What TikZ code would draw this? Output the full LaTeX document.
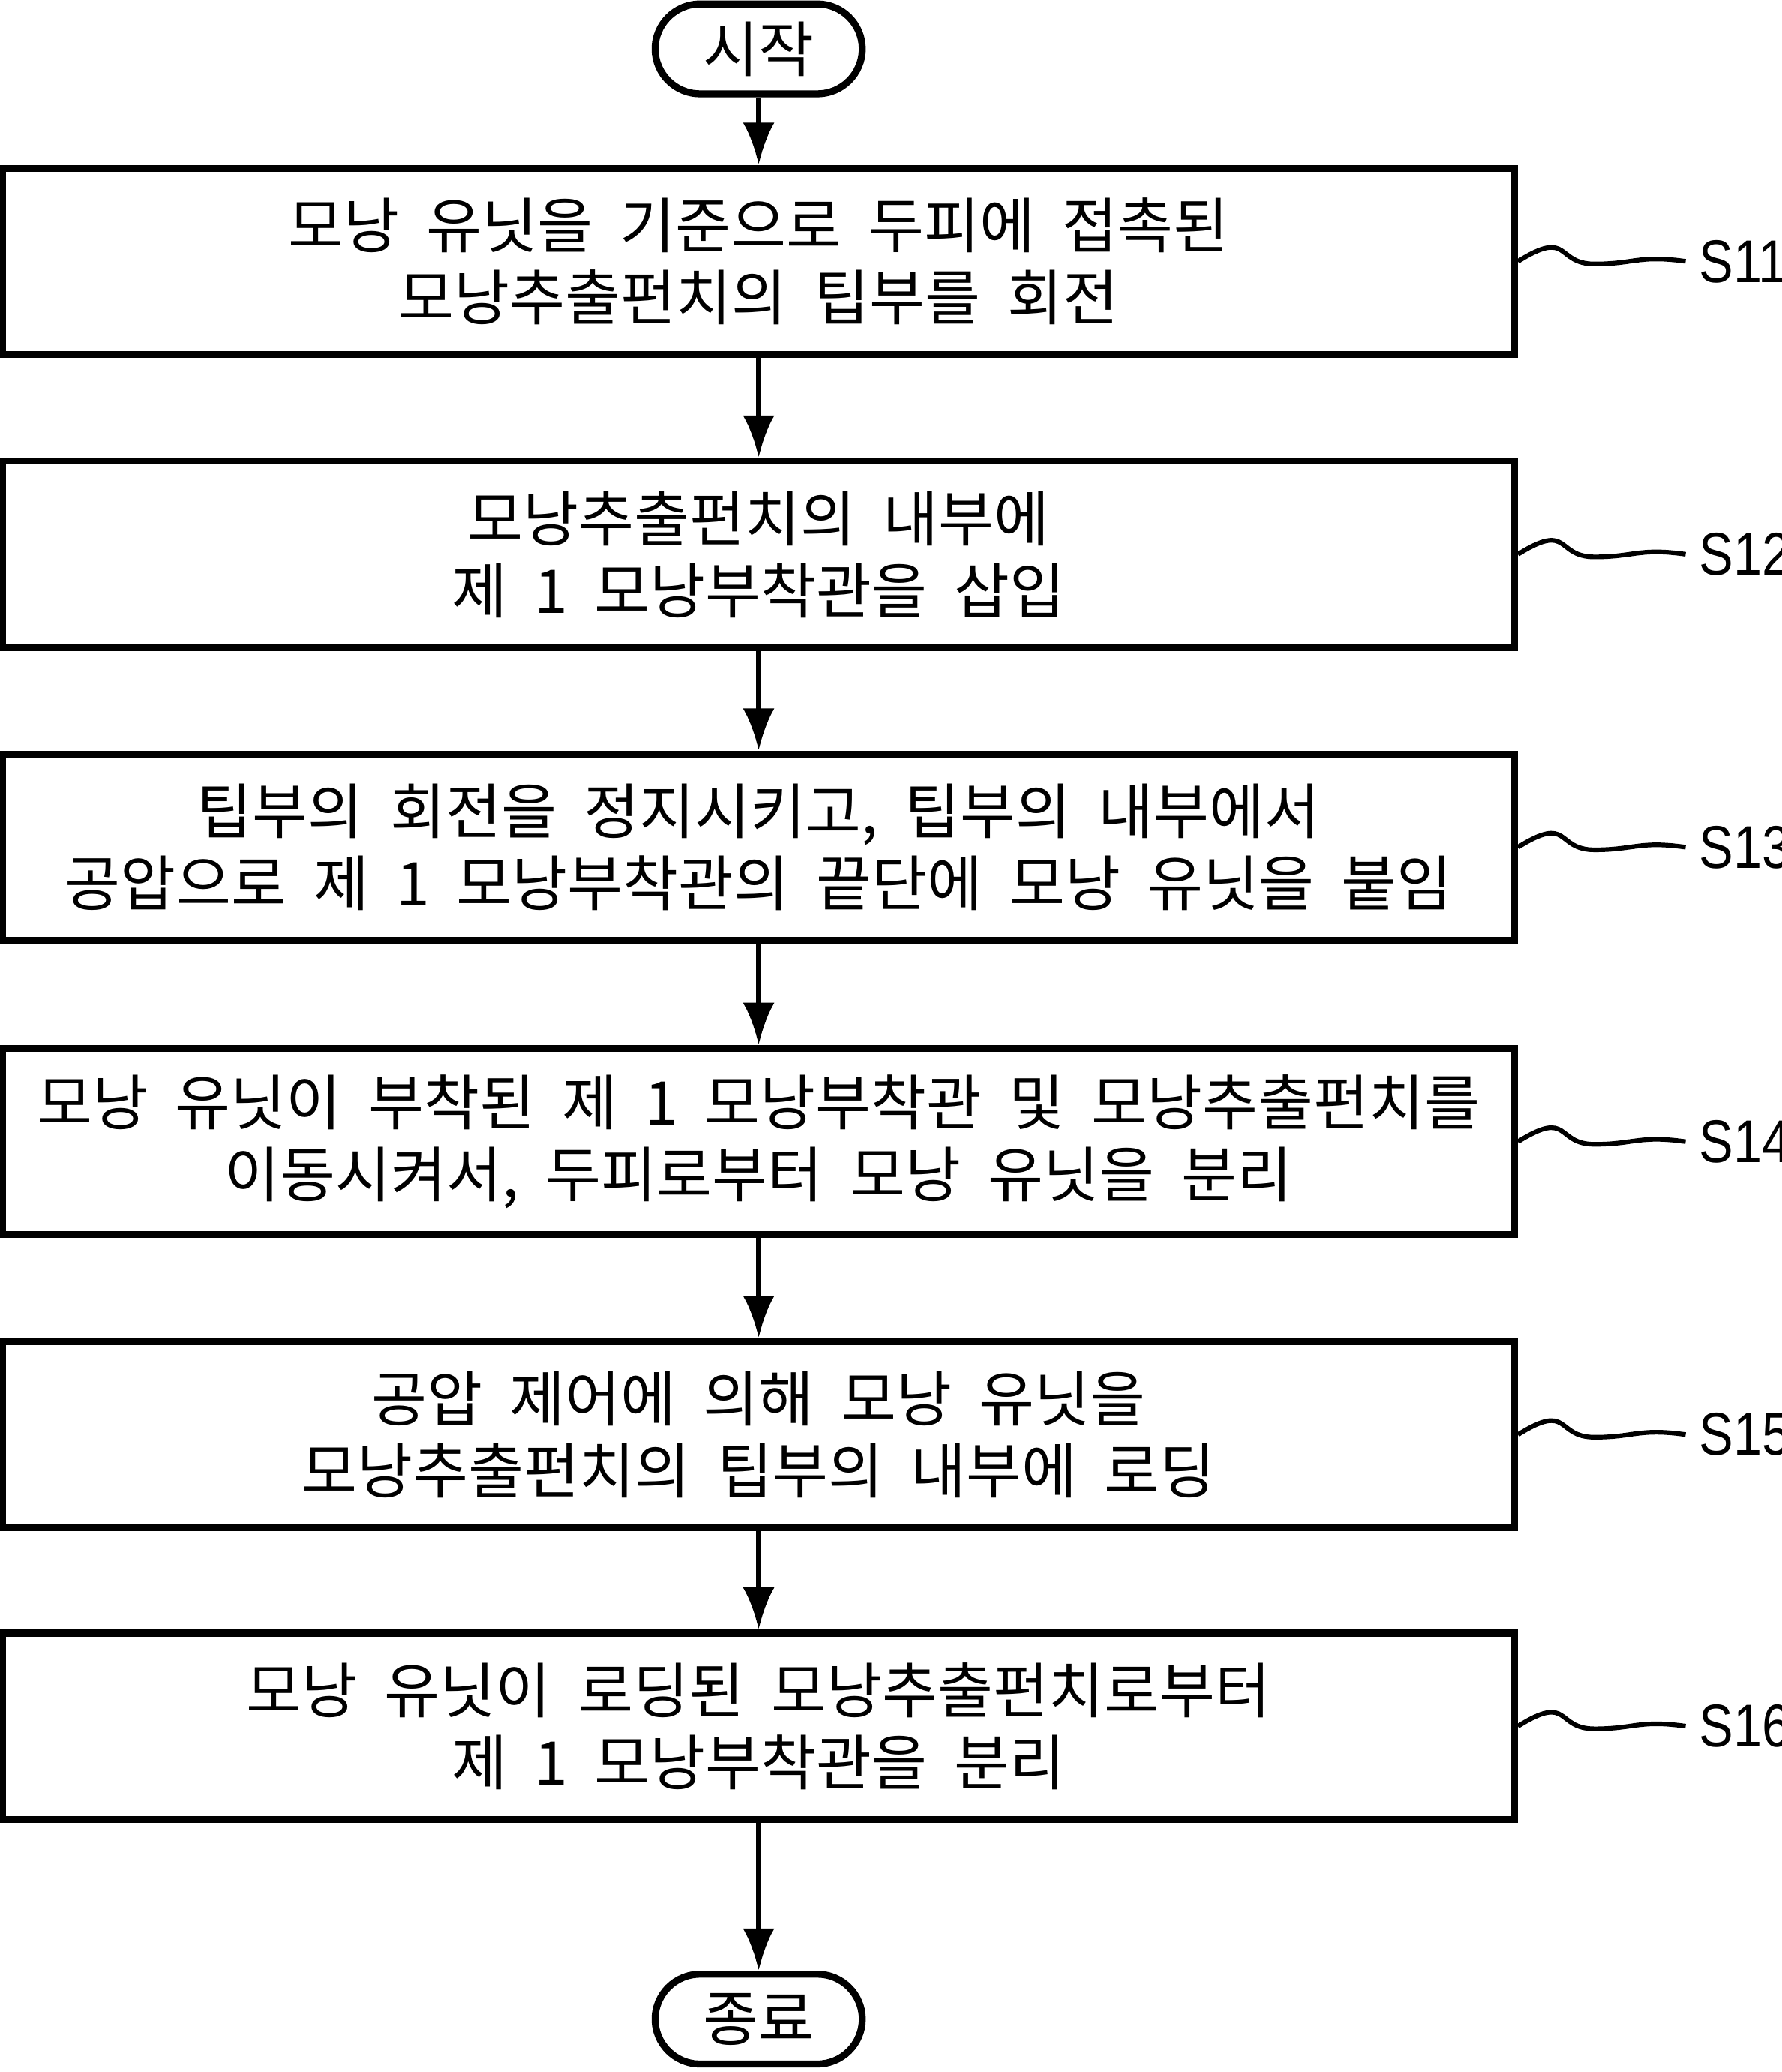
\documentclass[tikz,border=0pt]{standalone}
\usepackage{fontspec}
\setmainfont{Noto Sans CJK KR}
\newfontfamily\labelfont[FakeStretch=0.85]{Liberation Sans}
\usetikzlibrary{positioning, arrows.meta}
\tikzset{
    stepbox/.style={draw, line width=1.5pt, minimum width=11.45cm, minimum height=1.41cm,
      align=center, inner sep=0pt, font=\fontsize{13}{15.5}\selectfont},
    term/.style={draw, line width=1.5pt, rounded corners=0.34cm, minimum width=1.57cm,
      minimum height=0.68cm, font=\fontsize{13}{15}\selectfont},
    flow/.style={-{Latex[length=3.2mm, width=2.4mm]}, line width=1.2pt},
    tag/.style={font=\labelfont\fontsize{13}{15}\selectfont, inner sep=1pt}
}
\begin{document}
\begin{tikzpicture}[x=0.01cm, y=-0.01cm]
  \useasboundingbox (0,0) rectangle (1350,1570);
  \node [term] (start) at (575,37) {시작};
  \node [stepbox] (s11) at (575,198) {모낭\ \ 유닛을\ \ 기준으로\ \ 두피에\ \ 접촉된\\모낭추출펀치의\ \ 팁부를\ \ 회전};
  \node [stepbox] (s12) at (575,420) {모낭추출펀치의\ \ 내부에\\제\ \ 1\ \ 모낭부착관을\ \ 삽입};
  \node [stepbox] (s13) at (575,642) {팁부의\ \ 회전을\ \ 정지시키고,\ \ 팁부의\ \ 내부에서\\공압으로\ \ 제\ \ 1\ \ 모낭부착관의\ \ 끝단에\ \ 모낭\ \ 유닛을\ \ 붙임};
  \node [stepbox] (s14) at (575,865) {모낭\ \ 유닛이\ \ 부착된\ \ 제\ \ 1\ \ 모낭부착관\ \ 및\ \ 모낭추출펀치를\\이동시켜서,\ \ 두피로부터\ \ 모낭\ \ 유닛을\ \ 분리};
  \node [stepbox] (s15) at (575,1087) {공압\ \ 제어에\ \ 의해\ \ 모낭\ \ 유닛을\\모낭추출펀치의\ \ 팁부의\ \ 내부에\ \ 로딩};
  \node [stepbox] (s16) at (575,1308) {모낭\ \ 유닛이\ \ 로딩된\ \ 모낭추출펀치로부터\\제\ \ 1\ \ 모낭부착관을\ \ 분리};
  \node [term] (stop) at (575,1530) {종료};
  % connectors
  \foreach \a/\b in {start/s11, s11/s12, s12/s13, s13/s14, s14/s15, s15/s16, s16/stop}
    \draw [flow] (\a) -- (\b);
  % step labels
  \foreach \s/\t in {s11/S11, s12/S12, s13/S13, s14/S14, s15/S15, s16/S16} {
    \node [tag, anchor=west] (\s tag) at ([xshift=1.33cm] \s.east) {\t};
    \draw [line width=1pt] (\s.east) .. controls +(40,-25) and +(-30,0) .. ([xshift=0.58cm, yshift=-0.02cm] \s.east)
      .. controls +(30,0) and +(-35,-5) .. ([xshift=-0.06cm] \s tag.west);
  }
\end{tikzpicture}
\end{document}
